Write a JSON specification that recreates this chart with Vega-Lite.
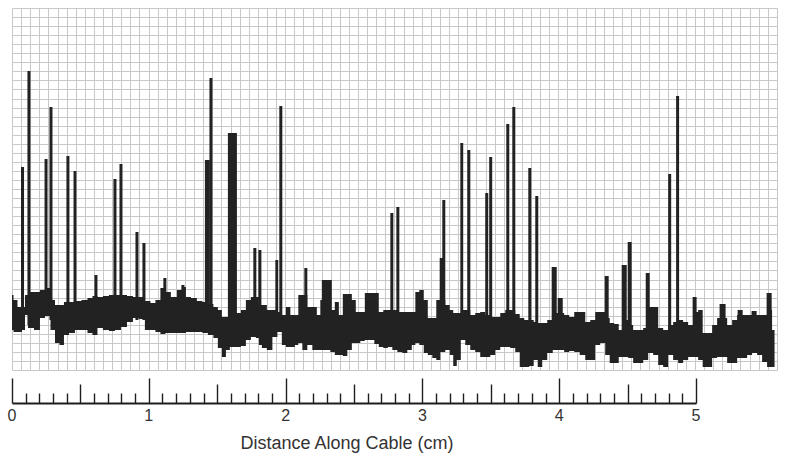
{
  "$schema": "https://vega.github.io/schema/vega-lite/v6.json",
  "padding": {"left": 7, "top": 8, "right": 8, "bottom": 0},
  "background": "white",
  "config": {"view": {"stroke": null}, "font": "Liberation Sans"},
  "spacing": 7,
  "datasets": {
    "band": [
      {"d": 0, "lo": 40, "hi": 75}, {"d": 0.022, "lo": 38, "hi": 70}, {"d": 0.058, "lo": 38, "hi": 63}, {"d": 0.088, "lo": 40, "hi": 63},
      {"d": 0.102, "lo": 55, "hi": 75}, {"d": 0.132, "lo": 42, "hi": 78}, {"d": 0.19, "lo": 40, "hi": 78}, {"d": 0.219, "lo": 52, "hi": 80},
      {"d": 0.263, "lo": 54, "hi": 82}, {"d": 0.3, "lo": 40, "hi": 70}, {"d": 0.329, "lo": 27, "hi": 65}, {"d": 0.365, "lo": 25, "hi": 65},
      {"d": 0.395, "lo": 35, "hi": 68}, {"d": 0.439, "lo": 37, "hi": 68}, {"d": 0.482, "lo": 40, "hi": 69}, {"d": 0.534, "lo": 40, "hi": 70},
      {"d": 0.57, "lo": 37, "hi": 72}, {"d": 0.607, "lo": 35, "hi": 74}, {"d": 0.643, "lo": 42, "hi": 73}, {"d": 0.687, "lo": 40, "hi": 74},
      {"d": 0.731, "lo": 39, "hi": 75}, {"d": 0.775, "lo": 40, "hi": 75}, {"d": 0.819, "lo": 43, "hi": 75}, {"d": 0.863, "lo": 48, "hi": 74},
      {"d": 0.906, "lo": 52, "hi": 73}, {"d": 0.95, "lo": 51, "hi": 73}, {"d": 0.994, "lo": 40, "hi": 69}, {"d": 1.031, "lo": 40, "hi": 67},
      {"d": 1.067, "lo": 38, "hi": 70}, {"d": 1.104, "lo": 36, "hi": 82}, {"d": 1.14, "lo": 37, "hi": 78}, {"d": 1.184, "lo": 37, "hi": 73},
      {"d": 1.228, "lo": 37, "hi": 80}, {"d": 1.257, "lo": 37, "hi": 83}, {"d": 1.287, "lo": 38, "hi": 73}, {"d": 1.33, "lo": 38, "hi": 72},
      {"d": 1.374, "lo": 38, "hi": 69}, {"d": 1.411, "lo": 37, "hi": 68}, {"d": 1.455, "lo": 35, "hi": 66}, {"d": 1.491, "lo": 32, "hi": 63},
      {"d": 1.52, "lo": 22, "hi": 60}, {"d": 1.55, "lo": 13, "hi": 53}, {"d": 1.579, "lo": 20, "hi": 53}, {"d": 1.608, "lo": 23, "hi": 57},
      {"d": 1.652, "lo": 23, "hi": 57}, {"d": 1.696, "lo": 24, "hi": 60}, {"d": 1.725, "lo": 30, "hi": 70}, {"d": 1.769, "lo": 33, "hi": 73},
      {"d": 1.798, "lo": 32, "hi": 73}, {"d": 1.813, "lo": 25, "hi": 65}, {"d": 1.842, "lo": 22, "hi": 65}, {"d": 1.886, "lo": 20, "hi": 60},
      {"d": 1.923, "lo": 33, "hi": 60}, {"d": 1.959, "lo": 38, "hi": 58}, {"d": 1.988, "lo": 25, "hi": 55}, {"d": 2.018, "lo": 23, "hi": 63},
      {"d": 2.054, "lo": 23, "hi": 55}, {"d": 2.083, "lo": 25, "hi": 55}, {"d": 2.105, "lo": 27, "hi": 75}, {"d": 2.142, "lo": 20, "hi": 75},
      {"d": 2.178, "lo": 25, "hi": 63}, {"d": 2.215, "lo": 20, "hi": 63}, {"d": 2.244, "lo": 20, "hi": 55}, {"d": 2.266, "lo": 20, "hi": 70},
      {"d": 2.31, "lo": 20, "hi": 70}, {"d": 2.346, "lo": 18, "hi": 60}, {"d": 2.376, "lo": 15, "hi": 68}, {"d": 2.405, "lo": 15, "hi": 55},
      {"d": 2.434, "lo": 14, "hi": 76}, {"d": 2.471, "lo": 20, "hi": 76}, {"d": 2.5, "lo": 27, "hi": 70}, {"d": 2.529, "lo": 27, "hi": 58},
      {"d": 2.566, "lo": 29, "hi": 58}, {"d": 2.595, "lo": 30, "hi": 77}, {"d": 2.632, "lo": 30, "hi": 77}, {"d": 2.668, "lo": 26, "hi": 77},
      {"d": 2.697, "lo": 23, "hi": 58}, {"d": 2.734, "lo": 22, "hi": 60}, {"d": 2.763, "lo": 23, "hi": 60}, {"d": 2.8, "lo": 20, "hi": 60},
      {"d": 2.836, "lo": 18, "hi": 58}, {"d": 2.873, "lo": 17, "hi": 58}, {"d": 2.909, "lo": 20, "hi": 58}, {"d": 2.939, "lo": 25, "hi": 58},
      {"d": 2.961, "lo": 27, "hi": 78}, {"d": 2.997, "lo": 25, "hi": 80}, {"d": 3.026, "lo": 17, "hi": 70}, {"d": 3.056, "lo": 15, "hi": 52},
      {"d": 3.092, "lo": 12, "hi": 52}, {"d": 3.114, "lo": 10, "hi": 70}, {"d": 3.151, "lo": 18, "hi": 70}, {"d": 3.187, "lo": 20, "hi": 65},
      {"d": 3.216, "lo": 15, "hi": 60}, {"d": 3.238, "lo": 4, "hi": 57}, {"d": 3.268, "lo": 10, "hi": 57}, {"d": 3.297, "lo": 30, "hi": 60},
      {"d": 3.333, "lo": 25, "hi": 60}, {"d": 3.37, "lo": 20, "hi": 55}, {"d": 3.406, "lo": 18, "hi": 57}, {"d": 3.443, "lo": 13, "hi": 58},
      {"d": 3.48, "lo": 13, "hi": 55}, {"d": 3.516, "lo": 15, "hi": 53}, {"d": 3.553, "lo": 20, "hi": 53}, {"d": 3.589, "lo": 23, "hi": 57},
      {"d": 3.626, "lo": 23, "hi": 60}, {"d": 3.662, "lo": 22, "hi": 60}, {"d": 3.699, "lo": 18, "hi": 56}, {"d": 3.728, "lo": 3, "hi": 52},
      {"d": 3.765, "lo": 3, "hi": 50}, {"d": 3.801, "lo": 4, "hi": 50}, {"d": 3.83, "lo": 10, "hi": 48}, {"d": 3.86, "lo": 3, "hi": 47},
      {"d": 3.896, "lo": 10, "hi": 47}, {"d": 3.933, "lo": 17, "hi": 50}, {"d": 3.977, "lo": 20, "hi": 57}, {"d": 4.02, "lo": 20, "hi": 57},
      {"d": 4.057, "lo": 18, "hi": 55}, {"d": 4.094, "lo": 19, "hi": 53}, {"d": 4.13, "lo": 18, "hi": 58}, {"d": 4.174, "lo": 15, "hi": 58},
      {"d": 4.211, "lo": 10, "hi": 48}, {"d": 4.247, "lo": 10, "hi": 50}, {"d": 4.284, "lo": 25, "hi": 58}, {"d": 4.32, "lo": 27, "hi": 58},
      {"d": 4.357, "lo": 15, "hi": 52}, {"d": 4.386, "lo": 7, "hi": 47}, {"d": 4.423, "lo": 7, "hi": 46}, {"d": 4.452, "lo": 13, "hi": 40},
      {"d": 4.488, "lo": 13, "hi": 50}, {"d": 4.525, "lo": 12, "hi": 45}, {"d": 4.561, "lo": 7, "hi": 40}, {"d": 4.598, "lo": 7, "hi": 40},
      {"d": 4.635, "lo": 10, "hi": 42}, {"d": 4.671, "lo": 17, "hi": 63}, {"d": 4.708, "lo": 15, "hi": 63}, {"d": 4.744, "lo": 5, "hi": 42},
      {"d": 4.781, "lo": 3, "hi": 40}, {"d": 4.817, "lo": 15, "hi": 45}, {"d": 4.854, "lo": 10, "hi": 48}, {"d": 4.89, "lo": 7, "hi": 50},
      {"d": 4.927, "lo": 10, "hi": 48}, {"d": 4.963, "lo": 13, "hi": 45}, {"d": 5.0, "lo": 13, "hi": 58}, {"d": 5.037, "lo": 10, "hi": 60},
      {"d": 5.066, "lo": 3, "hi": 37}, {"d": 5.102, "lo": 3, "hi": 37}, {"d": 5.139, "lo": 12, "hi": 45}, {"d": 5.175, "lo": 13, "hi": 52},
      {"d": 5.212, "lo": 13, "hi": 52}, {"d": 5.249, "lo": 7, "hi": 45}, {"d": 5.285, "lo": 7, "hi": 50}, {"d": 5.322, "lo": 12, "hi": 55},
      {"d": 5.358, "lo": 12, "hi": 55}, {"d": 5.395, "lo": 15, "hi": 55}, {"d": 5.431, "lo": 17, "hi": 55}, {"d": 5.468, "lo": 15, "hi": 55},
      {"d": 5.504, "lo": 8, "hi": 55}, {"d": 5.541, "lo": 3, "hi": 60}, {"d": 5.577, "lo": 3, "hi": 40}
    ],
    "spikes": [
      {"d": 0.066, "d2": 0.088, "hi": 203, "lo": 45}, {"d": 0.113, "d2": 0.135, "hi": 299, "lo": 45},
      {"d": 0.238, "d2": 0.26, "hi": 211, "lo": 55}, {"d": 0.274, "d2": 0.296, "hi": 263, "lo": 50},
      {"d": 0.398, "d2": 0.42, "hi": 214, "lo": 45}, {"d": 0.45, "d2": 0.471, "hi": 199, "lo": 45},
      {"d": 0.603, "d2": 0.625, "hi": 95, "lo": 50}, {"d": 0.742, "d2": 0.764, "hi": 191, "lo": 50},
      {"d": 0.786, "d2": 0.808, "hi": 206, "lo": 50}, {"d": 0.903, "d2": 0.925, "hi": 138, "lo": 50},
      {"d": 0.954, "d2": 0.976, "hi": 127, "lo": 50}, {"d": 1.107, "d2": 1.129, "hi": 92, "lo": 50},
      {"d": 1.239, "d2": 1.261, "hi": 85, "lo": 50}, {"d": 1.411, "d2": 1.447, "hi": 210, "lo": 50},
      {"d": 1.444, "d2": 1.466, "hi": 292, "lo": 50}, {"d": 1.579, "d2": 1.645, "hi": 237, "lo": 40},
      {"d": 1.765, "d2": 1.787, "hi": 122, "lo": 45}, {"d": 1.802, "d2": 1.824, "hi": 120, "lo": 45},
      {"d": 1.926, "d2": 1.947, "hi": 110, "lo": 40}, {"d": 1.955, "d2": 1.977, "hi": 264, "lo": 40},
      {"d": 2.138, "d2": 2.16, "hi": 102, "lo": 40}, {"d": 2.266, "d2": 2.339, "hi": 90, "lo": 40},
      {"d": 2.767, "d2": 2.789, "hi": 157, "lo": 40}, {"d": 2.811, "d2": 2.833, "hi": 163, "lo": 40},
      {"d": 3.128, "d2": 3.165, "hi": 112, "lo": 40}, {"d": 3.147, "d2": 3.169, "hi": 170, "lo": 40},
      {"d": 3.279, "d2": 3.3, "hi": 227, "lo": 40}, {"d": 3.33, "d2": 3.352, "hi": 220, "lo": 40},
      {"d": 3.461, "d2": 3.483, "hi": 177, "lo": 40}, {"d": 3.49, "d2": 3.512, "hi": 213, "lo": 40},
      {"d": 3.615, "d2": 3.637, "hi": 246, "lo": 40}, {"d": 3.659, "d2": 3.681, "hi": 263, "lo": 40},
      {"d": 3.776, "d2": 3.798, "hi": 202, "lo": 35}, {"d": 3.827, "d2": 3.849, "hi": 174, "lo": 35},
      {"d": 3.947, "d2": 3.984, "hi": 103, "lo": 40}, {"d": 3.991, "d2": 4.028, "hi": 72, "lo": 40},
      {"d": 4.335, "d2": 4.364, "hi": 94, "lo": 35}, {"d": 4.459, "d2": 4.496, "hi": 105, "lo": 30},
      {"d": 4.503, "d2": 4.532, "hi": 128, "lo": 30}, {"d": 4.635, "d2": 4.664, "hi": 97, "lo": 30},
      {"d": 4.799, "d2": 4.821, "hi": 196, "lo": 30}, {"d": 4.857, "d2": 4.879, "hi": 274, "lo": 30},
      {"d": 4.978, "d2": 5.007, "hi": 73, "lo": 40}, {"d": 5.175, "d2": 5.219, "hi": 66, "lo": 40},
      {"d": 5.307, "d2": 5.344, "hi": 60, "lo": 40}, {"d": 5.409, "d2": 5.446, "hi": 59, "lo": 40},
      {"d": 5.519, "d2": 5.556, "hi": 77, "lo": 40}
    ],
    "ruler": [{"cm": 0}, {"cm": 1}, {"cm": 2}, {"cm": 3}, {"cm": 4}, {"cm": 5}]
  },
  "vconcat": [
    {
      "width": 765,
      "height": 362,
      "encoding": {
        "x": {
          "field": "d", "type": "quantitative",
          "scale": {"domain": [0, 5.595], "nice": false, "zero": false},
          "axis": {
            "grid": true, "ticks": false, "labels": false, "domain": false, "title": null,
            "gridColor": "#c8c8c8", "gridWidth": 1,
            "values": [0, 0.0666, 0.1332, 0.1998, 0.2664, 0.333, 0.3996, 0.4662, 0.5328, 0.5994, 0.666, 0.7326, 0.7992, 0.8658, 0.9324, 0.999, 1.0656, 1.1322, 1.1988, 1.2654, 1.332, 1.3986, 1.4652, 1.5318, 1.5984, 1.665, 1.7316, 1.7982, 1.8648, 1.9314, 1.998, 2.0646, 2.1312, 2.1978, 2.2644, 2.331, 2.3976, 2.4642, 2.5308, 2.5974, 2.664, 2.7306, 2.7972, 2.8638, 2.9304, 2.997, 3.0636, 3.1302, 3.1968, 3.2634, 3.33, 3.3966, 3.4632, 3.5298, 3.5964, 3.663, 3.7296, 3.7962, 3.8628, 3.9294, 3.996, 4.0626, 4.1292, 4.1958, 4.2624, 4.329, 4.3956, 4.4622, 4.5288, 4.5954, 4.662, 4.7286, 4.7952, 4.8618, 4.9284, 4.995, 5.0616, 5.1282, 5.1948, 5.2614, 5.328, 5.3946, 5.4612, 5.5278, 5.5944]
          }
        },
        "y": {
          "field": "lo", "type": "quantitative",
          "scale": {"domain": [0, 362], "nice": false},
          "axis": {
            "grid": true, "ticks": false, "labels": false, "domain": false, "title": null,
            "gridColor": "#c8c8c8", "gridWidth": 1,
            "values": [0, 9.05, 18.1, 27.15, 36.2, 45.25, 54.3, 63.35, 72.4, 81.45, 90.5, 99.55, 108.6, 117.65, 126.7, 135.75, 144.8, 153.85, 162.9, 171.95, 181, 190.05, 199.1, 208.15, 217.2, 226.25, 235.3, 244.35, 253.4, 262.45, 271.5, 280.55, 289.6, 298.65, 307.7, 316.75, 325.8, 334.85, 343.9, 352.95, 362]
          }
        },
        "y2": {"field": "hi"}
      },
      "layer": [
        {
          "data": {"name": "band"},
          "mark": {"type": "area", "color": "#222222", "interpolate": "step"}
        },
        {
          "data": {"name": "spikes"},
          "mark": {"type": "rect", "color": "#222222"},
          "encoding": {"x2": {"field": "d2"}}
        }
      ]
    },
    {
      "width": 684,
      "height": 26,
      "data": {"name": "ruler"},
      "title": {"text": "Distance Along Cable (cm)", "orient": "bottom", "anchor": "middle", "fontSize": 18, "fontWeight": "normal", "color": "#333333", "offset": 6, "dx": -7, "baseline": "top"},
      "mark": {"type": "text", "fontSize": 16, "color": "#333333", "baseline": "middle"},
      "encoding": {
        "x": {
          "field": "cm", "type": "quantitative",
          "scale": {"domain": [0, 5], "nice": false},
          "axis": {
            "orient": "top", "labels": false, "title": null, "grid": false,
            "domainColor": "#1e1e1e", "domainWidth": 2,
            "tickColor": "#1e1e1e", "tickWidth": 1.4,
            "tickSize": {"condition": [{"test": "datum.value % 1 === 0", "value": 25}, {"test": "datum.value % 1 === 0.5", "value": 19}], "value": 10},
            "values": [0, 0.1, 0.2, 0.3, 0.4, 0.5, 0.6, 0.7, 0.8, 0.9, 1, 1.1, 1.2, 1.3, 1.4, 1.5, 1.6, 1.7, 1.8, 1.9, 2, 2.1, 2.2, 2.3, 2.4, 2.5, 2.6, 2.7, 2.8, 2.9, 3, 3.1, 3.2, 3.3, 3.4, 3.5, 3.6, 3.7, 3.8, 3.9, 4, 4.1, 4.2, 4.3, 4.4, 4.5, 4.6, 4.7, 4.8, 4.9, 5]
          }
        },
        "text": {"field": "cm", "type": "quantitative"}
      }
    }
  ]
}
